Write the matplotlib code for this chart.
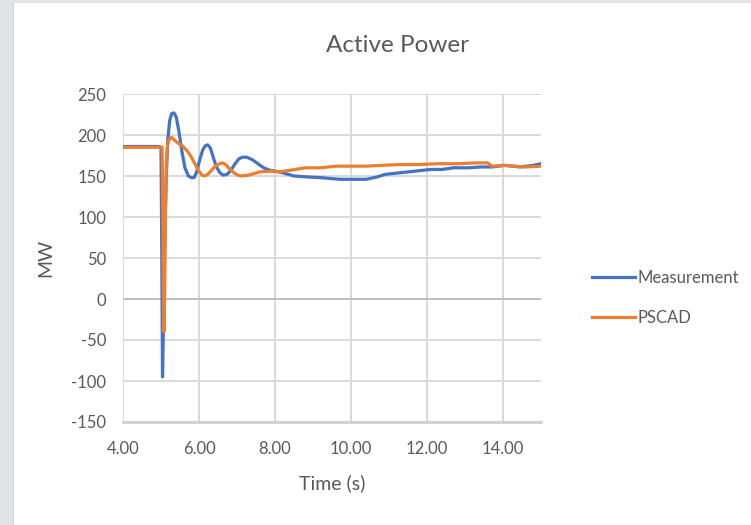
import matplotlib
matplotlib.use("Agg")
import matplotlib.pyplot as plt
from matplotlib.patches import Rectangle

# Measured active power (time in s, power in MW)
meas_t = [4.00, 4.50, 4.95, 5.00, 5.02, 5.04, 5.07, 5.10, 5.14, 5.18, 5.23, 5.28,
          5.34, 5.40, 5.47, 5.55, 5.63, 5.72, 5.80, 5.87, 5.94, 6.02, 6.10, 6.17,
          6.23, 6.30, 6.38, 6.46, 6.55, 6.64, 6.74, 6.84, 6.95, 7.05, 7.15, 7.25,
          7.40, 7.55, 7.70, 7.87, 8.00, 8.20, 8.50, 8.80, 9.20, 9.70, 10.00, 10.40,
          10.70, 10.90, 11.30, 11.70, 12.10, 12.40, 12.70, 13.10, 13.40, 13.70,
          14.05, 14.45, 14.80, 15.00]
meas_p = [186, 186, 186, 185, 60, -95, -20, 80, 150, 195, 218, 226,
          227, 222, 205, 180, 160, 150, 148, 148, 155, 170, 182, 187,
          188, 184, 172, 161, 154, 151, 152, 157, 165, 171, 173, 173,
          170, 165, 160, 157, 156, 154, 150, 149, 148, 146, 146, 146,
          149, 152, 154, 156, 158, 158, 160, 160, 161, 161,
          163, 161, 163, 165]

# Simulated active power from PSCAD
sim_t = [4.00, 5.03, 5.05, 5.07, 5.08, 5.10, 5.12, 5.14, 5.17, 5.22, 5.28, 5.35,
         5.45, 5.58, 5.70, 5.80, 5.90, 6.00, 6.08, 6.16, 6.25, 6.35, 6.45, 6.55,
         6.62, 6.70, 6.80, 6.92, 7.02, 7.12, 7.30, 7.60, 7.90, 8.10, 8.40, 8.80,
         9.20, 9.60, 10.00, 10.40, 10.80, 11.30, 11.80, 12.30, 12.80, 13.30,
         13.60, 13.70, 14.00, 14.30, 14.60, 15.00]
sim_p = [185, 185, 100, -20, -40, 20, 110, 165, 188, 195, 197, 194,
         190, 186, 180, 173, 164, 156, 151, 150, 153, 158, 163, 165,
         166, 164, 159, 154, 151, 150, 151, 155, 156, 155, 157, 160,
         160, 162, 162, 162, 163, 164, 164, 165, 165, 166,
         166, 162, 163, 162, 161, 162]

x_ticks = [4, 6, 8, 10, 12, 14]
y_ticks = [-150, -100, -50, 0, 50, 100, 150, 200, 250]

TEXT = "#595959"
FONT = "Lato"

fig = plt.figure(figsize=(7.51, 5.25), dpi=100)
fig.patch.set_facecolor("white")

# Grey frame around the chart panel
fig.patches.append(Rectangle((0, 0), 14 / 751, 1, transform=fig.transFigure,
                             facecolor="#dfe5e7", edgecolor="none", zorder=0))
fig.patches.append(Rectangle((0, 1 - 3 / 525), 1, 3 / 525, transform=fig.transFigure,
                             facecolor="#dfe5e7", edgecolor="none", zorder=0))
fig.patches.append(Rectangle((13 / 751, 0), 1.5 / 751, 1 - 3 / 525,
                             transform=fig.transFigure,
                             facecolor="#cfd3d5", edgecolor="none", zorder=0))

ax = fig.add_axes([123 / 751, (525 - 422) / 525, 418 / 751, 328 / 525])

ax.plot(meas_t, meas_p, color="#4472C4", lw=2.3, label="Measurement",
        solid_joinstyle="round", zorder=3)
ax.plot(sim_t, sim_p, color="#ED7D31", lw=2.3, label="PSCAD",
        solid_joinstyle="round", zorder=4)

ax.set_xlim(4, 15)
ax.set_ylim(-150, 250)
ax.set_xticks(x_ticks)
ax.set_xticklabels([f"{v:.2f}" for v in x_ticks])
ax.set_yticks(y_ticks)
ax.set_yticklabels([str(v) for v in y_ticks])

ax.grid(True, color="#d9d9d9", lw=1.4)
ax.set_axisbelow(True)
ax.axhline(0, color="#bfbfbf", lw=1.4, zorder=1)
for s in ax.spines.values():
    s.set_visible(False)
ax.axhline(-150, color="#d0d0d0", lw=2.0, zorder=1, clip_on=False)

ax.tick_params(length=0, colors=TEXT, labelsize=12, pad=12)
ax.tick_params(axis="x", pad=14)
for lab in ax.get_xticklabels() + ax.get_yticklabels():
    lab.set_fontfamily(FONT)

ax.set_xlabel("Time (s)", fontsize=14, color=TEXT, family=FONT, labelpad=12)
ax.set_ylabel("MW", fontsize=14, color=TEXT, family=FONT, labelpad=12)

fig.text(397 / 751, 1 - 45 / 525, "Active Power", ha="center", va="center",
         fontsize=17.5, color=TEXT, family=FONT)

leg = ax.legend(loc="center left", bbox_to_anchor=(577 / 751, 1 - 298 / 525),
                bbox_transform=fig.transFigure, frameon=False,
                handlelength=2.6, handletextpad=0.15, labelspacing=1.45,
                prop={"family": FONT, "size": 12})
for t in leg.get_texts():
    t.set_color(TEXT)

fig.savefig("out.png", dpi=100)
